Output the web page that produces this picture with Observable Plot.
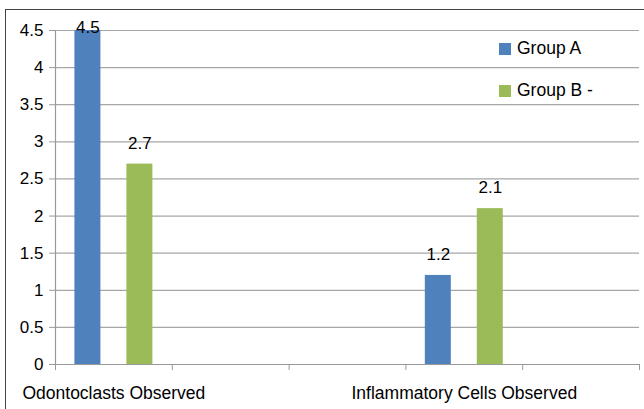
<!DOCTYPE html>
<html><head><meta charset="utf-8">
<script src="https://cdn.jsdelivr.net/npm/d3@7"></script>
<script src="https://cdn.jsdelivr.net/npm/@observablehq/plot@0.6"></script>
<style>
body{margin:0;background:#fff}
#wrap{position:relative;width:644px;height:409px;overflow:hidden;font-family:"Liberation Sans",Arial,sans-serif;background:#fff}
#border{position:absolute;left:5px;top:9px;width:700px;height:500px;border-left:1.5px solid #444;border-top:1.5px solid #444;box-sizing:border-box}
#chart{position:absolute;left:0;top:0}
.leg{position:absolute;display:flex;align-items:center;font-size:17.5px;color:#000;line-height:1}
.sw{width:12px;height:12px;margin-right:6px}
</style>
</head><body>
<div id="wrap"><div id="border"></div><div id="chart"></div>
<div class="leg" style="left:499px;top:40px"><div class="sw" style="background:#4F81BD"></div><span>Group A</span></div>
<div class="leg" style="left:499px;top:82px"><div class="sw" style="background:#9BBB59"></div><span>Group B -</span></div>
</div>
<script>
// axis category slots (Excel shows only every third label; blanks are unlabeled slots)
const axisCategories = ["Odontoclasts Observed", "", "", "Inflammatory Cells Observed", ""];
const series = ["Group A", "Group B -"];
const groupA = [4.5, null, null, 1.2, null];
const groupB = [2.7, null, null, 2.1, null];
const yTicks = [0, 0.5, 1, 1.5, 2, 2.5, 3, 3.5, 4, 4.5];
const colors = ["#4F81BD", "#9BBB59"];

const rows = [];
axisCategories.forEach((c, i) => {
  if (groupA[i] != null) rows.push({slot: i, series: series[0], value: groupA[i]});
  if (groupB[i] != null) rows.push({slot: i, series: series[1], value: groupB[i]});
});
const inner = d3.scaleBand().domain(series).range([0, 1]).paddingInner(0.5).paddingOuter(0.3735);
const x1 = d => d.slot + inner(d.series);
const x2 = d => d.slot + inner(d.series) + inner.bandwidth();
const xc = d => d.slot + inner(d.series) + inner.bandwidth() / 2;
const yMax = 4.5;

const plot = Plot.plot({
  width: 644, height: 409,
  marginLeft: 55, marginRight: 5, marginTop: 30, marginBottom: 45,
  x: {domain: [0, axisCategories.length]},
  y: {domain: [0, yMax]},
  color: {domain: series, range: colors},
  style: {fontFamily: '"Liberation Sans", Arial, sans-serif', fontSize: "16px", color: "#000", background: "transparent"},
  marks: [
    Plot.gridY(yTicks, {stroke: "#a6a6a6", strokeOpacity: 1, strokeWidth: 1.2}),
    Plot.axisY(yTicks, {tickSize: 6, tickPadding: 6, stroke: "#999", fill: "#000", fontSize: 17, tickFormat: d => String(d), label: null}),
    Plot.axisX(d3.range(axisCategories.length + 1), {tickSize: 6, tickFormat: () => "", stroke: "#999", label: null}),
    Plot.axisX(d3.range(axisCategories.length).map(i => i + 0.5), {tickSize: 0, tickPadding: 22, tickFormat: d => axisCategories[Math.floor(d)], fontSize: 17.5, fill: "#000", label: null}),
    Plot.ruleY([0], {stroke: "#999", strokeWidth: 1.2}),
    Plot.ruleX([0], {stroke: "#999", strokeWidth: 1.2}),
    Plot.rectY(rows, {x1, x2, y: "value", fill: "series"}),
    Plot.text(rows.filter(d => d.value < yMax), {x: xc, y: "value", text: d => String(d.value), dy: -21, fontSize: 17, fill: "#000"}),
    Plot.text(rows.filter(d => d.value >= yMax), {x: xc, y: "value", text: d => String(d.value), dy: -3, fontSize: 17, fill: "#000"})
  ]
});
document.getElementById("chart").appendChild(plot);
</script>
</body></html>
